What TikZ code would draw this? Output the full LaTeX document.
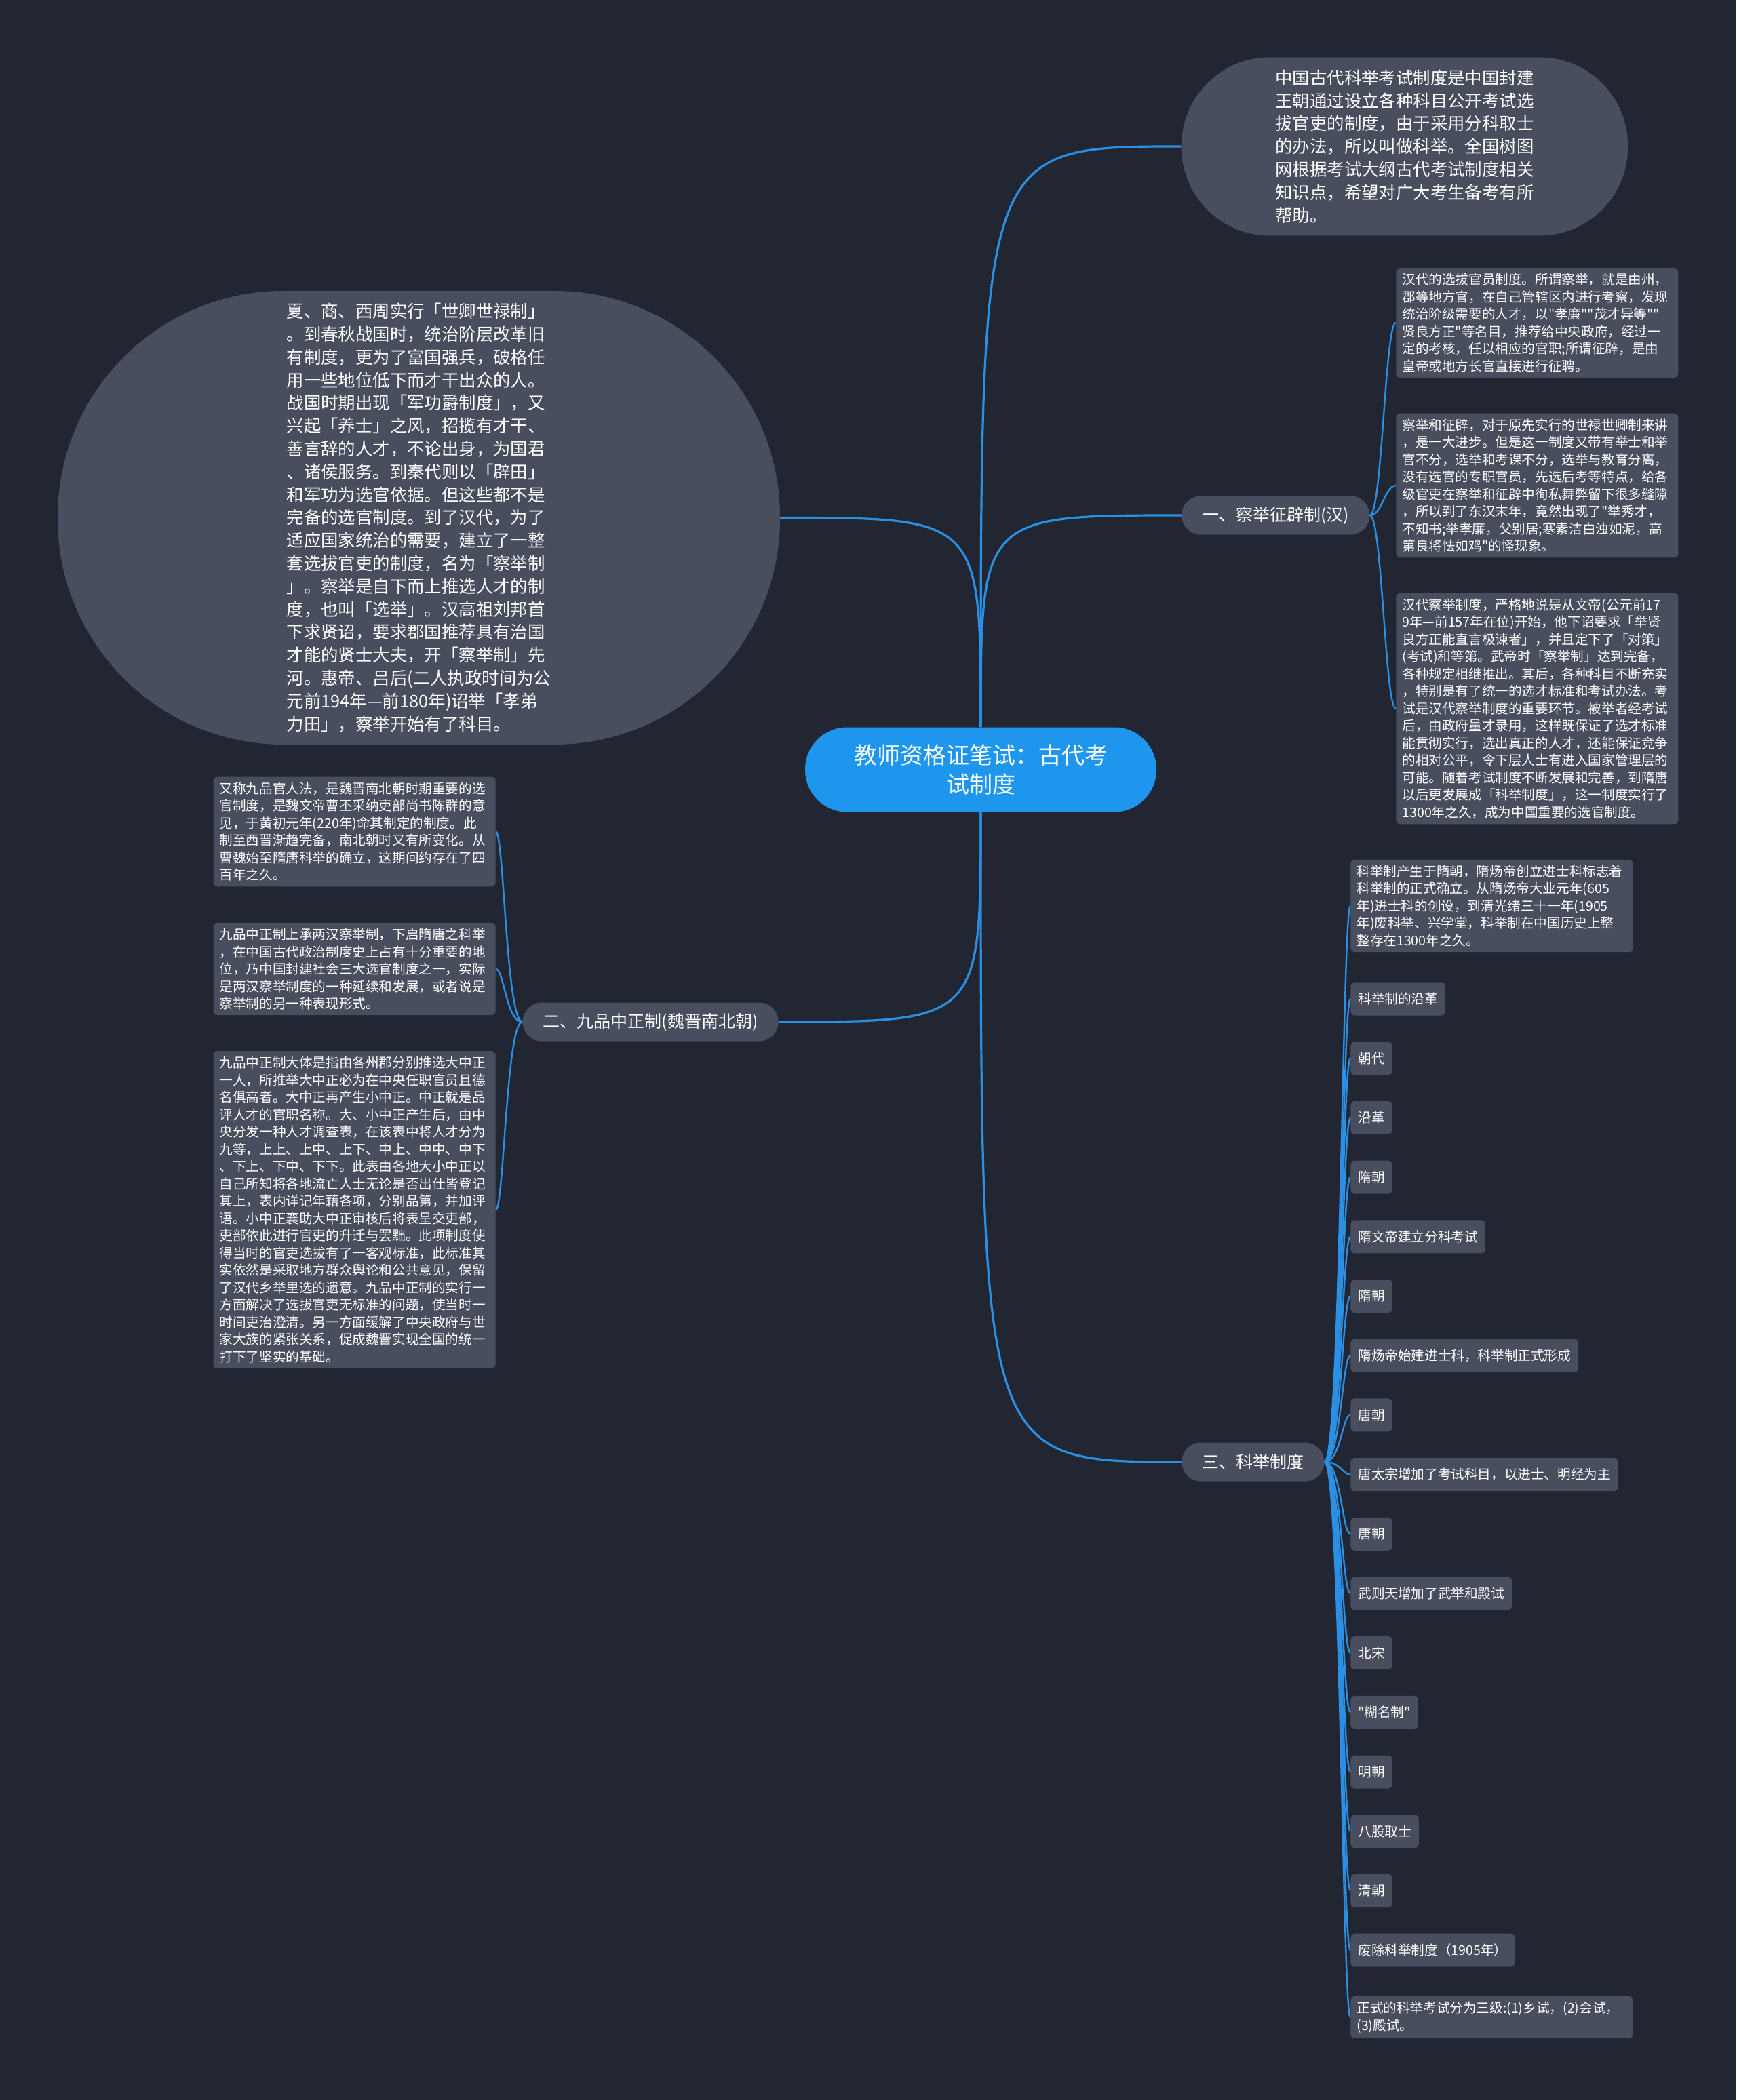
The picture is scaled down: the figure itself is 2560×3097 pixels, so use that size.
\documentclass[tikz,border=0pt]{standalone}
\usepackage{fontspec}
\setmainfont{Noto Sans CJK SC}[Ligatures=TeXOff]
\definecolor{bgc}{HTML}{222632}
\definecolor{nodec}{HTML}{484E5E}
\definecolor{mainc}{HTML}{1E96EE}
\definecolor{linec}{HTML}{2B8FE3}
\begin{document}
\begin{tikzpicture}[x=0.5pt,y=-0.5pt,
 every node/.style={text=white},
 link/.style={draw=linec,line width=1.6pt},
 sublink/.style={draw=linec,line width=1.2pt},
 rootnode/.style={fill=mainc, rounded corners=31pt, minimum width=259pt, minimum height=62.5pt, align=center, font=\fontsize{17}{21.7}\selectfont, inner sep=0pt},
 bignode/.style={fill=nodec, align=left, font=\fontsize{12.7}{16.9}\selectfont, inner sep=0pt},
 lonenode/.style={fill=nodec, rounded corners=14pt, minimum height=28.5pt, inner xsep=15pt, inner ysep=0pt, font=\fontsize{12.5}{15}\selectfont},
 detail/.style={fill=nodec, rounded corners=3pt, align=left, text width=199pt, inner xsep=4.5pt, inner ysep=4pt, font=\fontsize{9.8}{12.75}\selectfont},
 item/.style={fill=nodec, rounded corners=3pt, minimum height=24.5pt, inner xsep=5.5pt, inner ysep=0pt, align=left, font=\fontsize{9.8}{12.75}\selectfont}
]
\useasboundingbox (0,0) rectangle (2560,3097);
\fill[bgc] (0,0) rectangle (2560,3097);

% root
\node[rootnode] (root) at (1446,1135) {教师资格证笔试：古代考\\试制度};

% intro
\node[bignode, rounded corners=65pt, minimum width=329pt, minimum height=131.5pt] (intro) at (2071,216) {中国古代科举考试制度是中国封建\\王朝通过设立各种科目公开考试选\\拔官吏的制度，由于采用分科取士\\的办法，所以叫做科举。全国树图\\网根据考试大纲古代考试制度相关\\知识点，希望对广大考生备考有所\\帮助。};

% big left
\node[bignode, rounded corners=166.5pt, minimum width=532.5pt, minimum height=334.5pt] (big) at (617.5,763.5) {夏、商、西周实行「世卿世禄制」\\。到春秋战国时，统治阶层改革旧\\有制度，更为了富国强兵，破格任\\用一些地位低下而才干出众的人。\\战国时期出现「军功爵制度」，又\\兴起「养士」之风，招揽有才干、\\善言辞的人才，不论出身，为国君\\、诸侯服务。到秦代则以「辟田」\\和军功为选官依据。但这些都不是\\完备的选官制度。到了汉代，为了\\适应国家统治的需要，建立了一整\\套选拔官吏的制度，名为「察举制\\」。察举是自下而上推选人才的制\\度，也叫「选举」。汉高祖刘邦首\\下求贤诏，要求郡国推荐具有治国\\才能的贤士大夫，开「察举制」先\\河。惠帝、吕后(二人执政时间为公\\元前194年—前180年)诏举「孝弟\\力田」，察举开始有了科目。};

% level one
\node[lonenode, anchor=west] (one) at (1742,760) {一、察举征辟制(汉)};
\node[lonenode, anchor=east] (two) at (1148,1507) {二、九品中正制(魏晋南北朝)};
\node[lonenode, anchor=west] (three) at (1742,2156) {三、科举制度};

% details of one
\node[detail, anchor=west] (a) at (2058,476) {汉代的选拔官员制度。所谓察举，就是由州，\\郡等地方官，在自己管辖区内进行考察，发现\\统治阶级需要的人才，以"孝廉""茂才异等""\\贤良方正"等名目，推荐给中央政府，经过一\\定的考核，任以相应的官职;所谓征辟，是由\\皇帝或地方长官直接进行征聘。};
\node[detail, anchor=west] (b) at (2058,716) {察举和征辟，对于原先实行的世禄世卿制来讲\\，是一大进步。但是这一制度又带有举士和举\\官不分，选举和考课不分，选举与教育分离，\\没有选官的专职官员，先选后考等特点，给各\\级官吏在察举和征辟中徇私舞弊留下很多缝隙\\，所以到了东汉末年，竟然出现了"举秀才，\\不知书;举孝廉，父别居;寒素洁白浊如泥，高\\第良将怯如鸡"的怪现象。};
\node[detail, anchor=west] (c) at (2058,1045) {汉代察举制度，严格地说是从文帝(公元前17\\9年—前157年在位)开始，他下诏要求「举贤\\良方正能直言极谏者」，并且定下了「对策」\\(考试)和等第。武帝时「察举制」达到完备，\\各种规定相继推出。其后，各种科目不断充实\\，特别是有了统一的选才标准和考试办法。考\\试是汉代察举制度的重要环节。被举者经考试\\后，由政府量才录用，这样既保证了选才标准\\能贯彻实行，选出真正的人才，还能保证竞争\\的相对公平，令下层人士有进入国家管理层的\\可能。随着考试制度不断发展和完善，到隋唐\\以后更发展成「科举制度」，这一制度实行了\\1300年之久，成为中国重要的选官制度。};

% details of two
\node[detail, anchor=east] (d) at (731,1226.5) {又称九品官人法，是魏晋南北朝时期重要的选\\官制度，是魏文帝曹丕采纳吏部尚书陈群的意\\见，于黄初元年(220年)命其制定的制度。此\\制至西晋渐趋完备，南北朝时又有所变化。从\\曹魏始至隋唐科举的确立，这期间约存在了四\\百年之久。};
\node[detail, anchor=east] (e) at (731,1429) {九品中正制上承两汉察举制，下启隋唐之科举\\，在中国古代政治制度史上占有十分重要的地\\位，乃中国封建社会三大选官制度之一，实际\\是两汉察举制度的一种延续和发展，或者说是\\察举制的另一种表现形式。};
\node[detail, anchor=east] (f) at (731,1784) {九品中正制大体是指由各州郡分别推选大中正\\一人，所推举大中正必为在中央任职官员且德\\名俱高者。大中正再产生小中正。中正就是品\\评人才的官职名称。大、小中正产生后，由中\\央分发一种人才调查表，在该表中将人才分为\\九等，上上、上中、上下、中上、中中、中下\\、下上、下中、下下。此表由各地大小中正以\\自己所知将各地流亡人士无论是否出仕皆登记\\其上，表内详记年藉各项，分别品第，并加评\\语。小中正襄助大中正审核后将表呈交吏部，\\吏部依此进行官吏的升迁与罢黜。此项制度使\\得当时的官吏选拔有了一客观标准，此标准其\\实依然是采取地方群众舆论和公共意见，保留\\了汉代乡举里选的遗意。九品中正制的实行一\\方面解决了选拔官吏无标准的问题，使当时一\\时间吏治澄清。另一方面缓解了中央政府与世\\家大族的紧张关系，促成魏晋实现全国的统一\\打下了坚实的基础。};

% items of three
\node[detail, anchor=west] (k1) at (1991,1336) {科举制产生于隋朝，隋炀帝创立进士科标志着\\科举制的正式确立。从隋炀帝大业元年(605\\年)进士科的创设，到清光绪三十一年(1905\\年)废科举、兴学堂，科举制在中国历史上整\\整存在1300年之久。};
\node[item, anchor=west] (k2) at (1991,1473) {科举制的沿革};
\node[item, anchor=west] (k3) at (1991,1560.7) {朝代};
\node[item, anchor=west] (k4) at (1991,1648.4) {沿革};
\node[item, anchor=west] (k5) at (1991,1736.1) {隋朝};
\node[item, anchor=west] (k6) at (1991,1823.8) {隋文帝建立分科考试};
\node[item, anchor=west] (k7) at (1991,1911.5) {隋朝};
\node[item, anchor=west] (k8) at (1991,1999.2) {隋炀帝始建进士科，科举制正式形成};
\node[item, anchor=west] (k9) at (1991,2086.9) {唐朝};
\node[item, anchor=west] (k10) at (1991,2174.6) {唐太宗增加了考试科目，以进士、明经为主};
\node[item, anchor=west] (k11) at (1991,2262.3) {唐朝};
\node[item, anchor=west] (k12) at (1991,2350) {武则天增加了武举和殿试};
\node[item, anchor=west] (k13) at (1991,2437.7) {北宋};
\node[item, anchor=west] (k14) at (1991,2525.4) {"糊名制"};
\node[item, anchor=west] (k15) at (1991,2613.1) {明朝};
\node[item, anchor=west] (k16) at (1991,2700.8) {八股取士};
\node[item, anchor=west] (k17) at (1991,2788.5) {清朝};
\node[item, anchor=west] (k18) at (1991,2876.2) {废除科举制度（1905年）};
\node[detail, anchor=west] (k19) at (1991,2975) {正式的科举考试分为三级:(1)乡试，(2)会试，\\(3)殿试。};

% main links
\draw[link] (root.north) .. controls (root.north |- intro.west) .. (intro.west);
\draw[link] (root.north) .. controls (root.north |- one.west) .. (one.west);
\draw[link] (root.north) .. controls (root.north |- big.east) .. (big.east);
\draw[link] (root.south) .. controls (root.south |- two.east) .. (two.east);
\draw[link] (root.south) .. controls (root.south |- three.west) .. (three.west);

% sub links
\foreach \n in {a,b,c}
  \draw[sublink] (one.east) .. controls ([xshift=9pt]one.east) and ([xshift=-8pt]\n.west) .. (\n.west);
\foreach \n in {d,e,f}
  \draw[sublink] (two.west) .. controls ([xshift=-12pt]two.west) and ([xshift=6pt]\n.east) .. (\n.east);
\foreach \n in {k1,k2,k3,k4,k5,k6,k7,k8,k9,k10,k11,k12,k13,k14,k15,k16,k17,k18,k19}
  \draw[sublink] (three.east) .. controls ([xshift=12pt]three.east) and ([xshift=-6pt]\n.west) .. (\n.west);
\end{tikzpicture}
\end{document}
